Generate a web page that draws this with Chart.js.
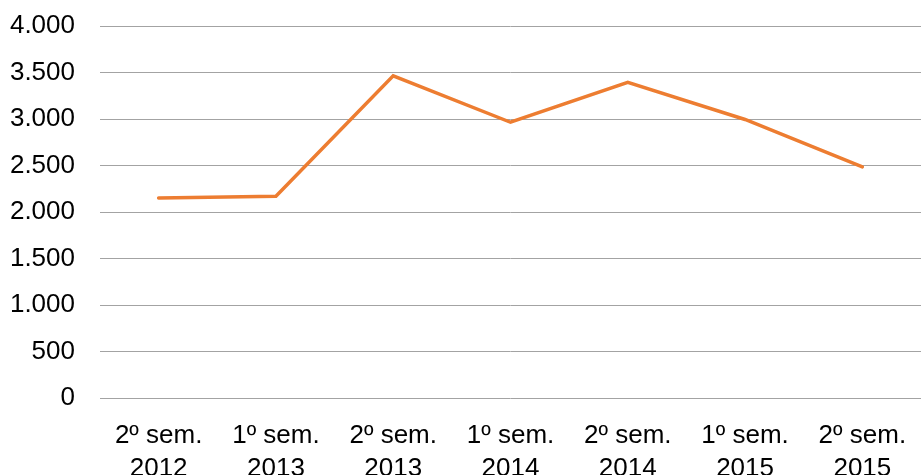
<!DOCTYPE html>
<html>
<head>
<meta charset="utf-8">
<script src="https://cdn.jsdelivr.net/npm/chart.js@4"></script>
<style>
  html, body { margin: 0; padding: 0; background: #fff; overflow: hidden; }
  #wrap { position: relative; width: 922px; height: 492px; }
</style>
</head>
<body>
<div id="wrap"><canvas id="myChart"></canvas></div>
<script>
// --- Data ---
const semesters = [
  ["2º sem.", "2012"],
  ["1º sem.", "2013"],
  ["2º sem.", "2013"],
  ["1º sem.", "2014"],
  ["2º sem.", "2014"],
  ["1º sem.", "2015"],
  ["2º sem.", "2015"]
];
const values = [2150, 2170, 3465, 2965, 3395, 2995, 2485];
const yTicks = [0, 500, 1000, 1500, 2000, 2500, 3000, 3500, 4000];

// thousands separator with dot
function fmt(v) {
  return String(v).replace(/\B(?=(\d{3})+(?!\d))/g, ".");
}

const font = { family: "'Liberation Sans', Arial, sans-serif", size: 26 };

const ctx = document.getElementById("myChart");
let chart = new Chart(ctx, {
  type: "line",
  data: {
    labels: semesters,
    datasets: [{
      data: values,
      borderColor: "#ED7D31",
      borderWidth: 3.5,
      pointRadius: 0,
      tension: 0,
      borderCapStyle: "round",
      borderJoinStyle: "miter"
    }]
  },
  options: {
    responsive: true,
    maintainAspectRatio: false,
    animation: false,
    layout: { padding: { top: 26, right: 1, left: 0, bottom: 0 } },
    plugins: { legend: { display: false }, tooltip: { enabled: false } },
    scales: {
      x: {
        offset: true,
        grid: { display: false, drawTicks: false },
        border: { display: false },
        ticks: { color: "#000", font: { ...font, lineHeight: 1.27 }, padding: 21, maxRotation: 0, autoSkip: false },
        afterFit: s => {
          s.height = 492 - 398;
          s.paddingLeft = 0;
          s.paddingRight = 0;
        }
      },
      y: {
        min: 0,
        max: 4000,
        afterBuildTicks: s => { s.ticks = yTicks.map(v => ({ value: v })); },
        grid: { color: "#a3a3a3", lineWidth: 1, drawTicks: false },
        border: { display: false },
        ticks: { color: "#000", font: font, padding: 25, callback: v => fmt(v) },
        afterFit: s => {
          s.width = 100;
          s.paddingTop = 0;
          s.paddingBottom = 0;
        }
      }
    }
  }
});
</script>
</body>
</html>
